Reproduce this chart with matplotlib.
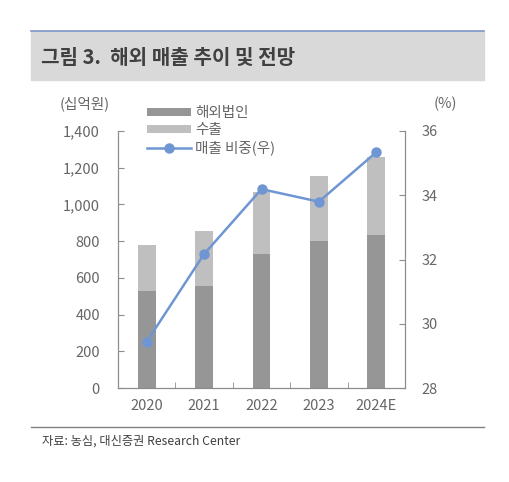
import numpy as np
import matplotlib
matplotlib.use("Agg")
import matplotlib.pyplot as plt
from matplotlib.lines import Line2D
from matplotlib.patches import Rectangle

plt.rcParams['font.family'] = ['Noto Sans CJK KR', 'DejaVu Sans']

years = ["2020", "2021", "2022", "2023", "2024E"]
overseas = [530, 557, 730, 802, 835]      # 해외법인
exports = [247, 300, 339, 353, 425]       # 수출
share = [29.44, 32.17, 34.19, 33.80, 35.34]  # 매출 비중(우), %

dark = "#969696"
light = "#bfbfbf"
blue = "#6f96d3"
txt = "#666666"
spine = "#8c8c8c"

W, H = 510, 482
fig = plt.figure(figsize=(W / 100, H / 100), dpi=100)

# title band
fig.add_artist(Rectangle((31 / W, 1 - 80 / H), 453 / W, 49 / H,
                         transform=fig.transFigure, color="#d9d9d9", zorder=0))
fig.add_artist(Line2D([31 / W, 484 / W], [1 - 31 / H] * 2, transform=fig.transFigure,
                      color="#7f96c8", lw=1.2))
fig.text(41 / W, 1 - 57 / H, "그림 3.  해외 매출 추이 및 전망", fontsize=14.5,
         fontweight="bold", color="#404040", va="center", ha="left")

# bottom rule + source
fig.add_artist(Line2D([31 / W, 484 / W], [1 - 427 / H] * 2, transform=fig.transFigure,
                      color="#808080", lw=1.0))
fig.text(42 / W, 1 - 441 / H, "자료: 농심, 대신증권 Research Center", fontsize=8.8,
         color="#404040", va="center", ha="left")

ax = fig.add_axes([118 / W, 1 - 388 / H, 287 / W, 257 / H])
x = np.arange(len(years))
ax.bar(x, overseas, width=0.31, color=dark, label="해외법인", zorder=2)
ax.bar(x, exports, width=0.31, bottom=overseas, color=light, label="수출", zorder=2)
ax.set_xlim(-0.5, len(years) - 0.5)
ax.set_ylim(0, 1400)
ax.set_yticks(range(0, 1401, 200))
ax.set_yticklabels([f"{v:,}" for v in range(0, 1401, 200)])
ax.set_xticks(x)
ax.set_xticklabels(years)
ax.set_xticks(np.arange(0.5, len(years) - 1, 1), minor=True)
ax.tick_params(axis="x", which="major", length=0, pad=8, labelsize=10.5, colors=txt)
ax.tick_params(axis="x", which="minor", direction="in", length=4, color=spine)
ax.tick_params(axis="y", direction="in", length=4, color=spine, pad=13,
               labelsize=10.5, labelcolor=txt)
ax.spines["top"].set_visible(False)
for s in ["left", "right", "bottom"]:
    ax.spines[s].set_color(spine)

ax2 = ax.twinx()
ax2.plot(x, share, color=blue, lw=1.8, marker="o", ms=6.5, label="매출 비중(우)", zorder=3)
ax2.set_ylim(28, 36)
ax2.set_yticks(range(28, 37, 2))
ax2.tick_params(axis="y", direction="in", length=4, color=spine, pad=12,
                labelsize=10.5, labelcolor=txt)
ax2.spines["top"].set_visible(False)
for s in ["left", "right", "bottom"]:
    ax2.spines[s].set_color(spine)

fig.text(85 / W, 1 - 104 / H, "(십억원)", fontsize=10.5, color=txt, ha="center", va="center")
fig.text(445 / W, 1 - 104 / H, "(%)", fontsize=10.5, color=txt, ha="center", va="center")

h1, l1 = ax.get_legend_handles_labels()
h2, l2 = ax2.get_legend_handles_labels()
leg = fig.legend(h1 + h2, l1 + l2, loc="upper left", bbox_to_anchor=(140 / W, 1 - 99 / H),
                 frameon=False, fontsize=10.5, labelcolor=txt, handlelength=3.0,
                 handleheight=0.5, handletextpad=0.3, labelspacing=0.22, borderpad=0)

fig.savefig("out.png", dpi=100)
